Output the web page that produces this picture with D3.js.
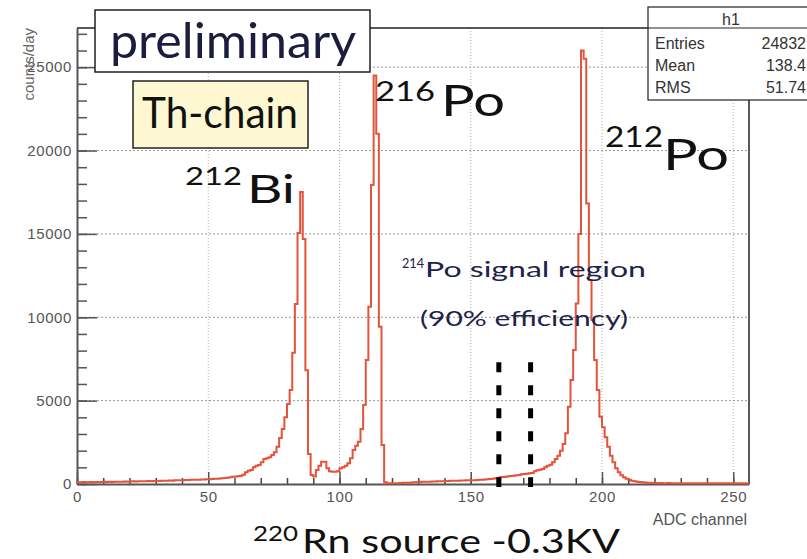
<!DOCTYPE html>
<html>
<head>
<meta charset="utf-8">
<script src="https://cdn.jsdelivr.net/npm/d3@7"></script>
<style>
  body { margin: 0; background: #fff; }
  svg { display: block; font-family: "Liberation Sans", Arial, sans-serif; }
</style>
</head>
<body>
<svg width="807" height="559"></svg>
<script>
// ADC spectrum, one bin per channel (0..255)
const binWidth = 1;
const counts = [
  110,100,120,110,100,120,110,120,110,120,
  130,120,130,120,140,130,140,130,150,140,
  150,160,150,160,170,160,170,180,170,180,
  190,180,190,200,200,210,200,220,220,230,
  230,240,240,250,250,260,260,270,270,280,
  280,300,310,320,330,350,360,380,400,430,
  450,470,500,560,700,800,840,1000,1100,1140,
  1300,1500,1540,1600,1740,1900,2240,2760,3300,4000,
  4800,5640,7870,10790,15050,17520,14700,6830,1800,540,
  450,840,1100,1340,1340,940,760,740,740,760,
  940,1000,1100,1240,1540,2040,2300,2540,3300,4740,
  7430,10630,17930,24500,21000,9430,2340,100,40,40,
  40,50,50,60,70,70,80,90,100,110,
  120,130,130,140,140,150,150,160,160,170,
  180,180,190,190,200,200,210,210,220,220,
  220,230,240,250,260,270,290,300,320,340,
  360,400,420,440,460,480,500,520,540,580,
  600,620,640,660,760,820,860,900,1000,1100,
  1150,1300,1500,1700,2000,2400,3040,4640,6240,8030,
  10830,15000,26000,25500,16830,12230,9830,7430,5640,4040,
  3400,2800,2240,1700,1300,950,700,520,400,320,
  250,200,170,140,120,100,90,80,70,60,
  60,50,60,50,50,60,50,50,40,50,
  50,40,50,50,40,50,40,40,50,40,
  40,50,40,40,40,50,40,40,40,40,
  40,40,40,40,40,40
];
const xTicks = [0, 50, 100, 150, 200, 250];
const yTicks = [0, 5000, 10000, 15000, 20000, 25000];
const signalCuts = [160.7, 172.8];
const statLabels = ['Entries', 'Mean', 'RMS'];
const statValues = ['24832', '138.4', '51.74'];

const m = { left: 77, right: 749, top: 28, bottom: 484 };
const svg = d3.select('svg');
const x = d3.scaleLinear().domain([0, 256]).range([m.left, m.right]);
const y = d3.scaleLinear().domain([0, 27350]).range([m.bottom, m.top]);
const labelFont = 'Lato, "Open Sans", sans-serif';

// grid
svg.append('g').selectAll('line')
  .data(xTicks.slice(1))
  .join('line')
  .attr('x1', d => x(d)).attr('x2', d => x(d))
  .attr('y1', m.top).attr('y2', m.bottom)
  .attr('stroke', '#b0b0b0').attr('stroke-dasharray', '1,2');
svg.append('g').selectAll('line')
  .data(yTicks.slice(1))
  .join('line')
  .attr('x1', m.left).attr('x2', m.right)
  .attr('y1', d => y(d)).attr('y2', d => y(d))
  .attr('stroke', '#999').attr('stroke-dasharray', '2,2');

// frame
svg.append('path')
  .attr('d', `M${m.left},${m.top}H${m.right}V${m.bottom}`)
  .attr('fill', 'none').attr('stroke', '#222').attr('stroke-width', 1.5);

// minor ticks
svg.append('g')
  .attr('transform', `translate(${m.left},0)`)
  .call(d3.axisLeft(y).ticks(27).tickSizeInner(-10).tickSizeOuter(0).tickFormat(''))
  .call(g => g.select('.domain').remove())
  .selectAll('line').attr('stroke', '#555').attr('stroke-width', 1.5);
svg.append('g')
  .attr('transform', `translate(0,${m.bottom})`)
  .call(d3.axisBottom(x).ticks(25).tickSizeInner(-6).tickSizeOuter(0).tickFormat(''))
  .call(g => g.select('.domain').remove())
  .selectAll('line').attr('stroke', '#444').attr('stroke-width', 1.5);

// main axes
const yAxis = svg.append('g')
  .attr('transform', `translate(${m.left},0)`)
  .call(d3.axisLeft(y).tickValues(yTicks).tickFormat(d3.format('d')).tickSizeInner(-20).tickSizeOuter(0).tickPadding(5));
const xAxis = svg.append('g')
  .attr('transform', `translate(0,${m.bottom})`)
  .call(d3.axisBottom(x).tickValues(xTicks).tickFormat(d3.format('d')).tickSizeInner(-12).tickSizeOuter(0).tickPadding(7));
[yAxis, xAxis].forEach(g => {
  g.select('.domain').attr('stroke', '#555').attr('stroke-width', 2);
  g.selectAll('line').attr('stroke', '#555').attr('stroke-width', 1.5);
  g.selectAll('text')
    .attr('font-family', '"Liberation Sans", Arial, sans-serif')
    .attr('font-size', 15).attr('letter-spacing', 0.6).attr('fill', '#555');
});

// histogram outline
const steps = counts.flatMap((c, i) => [[i * binWidth, c], [(i + 1) * binWidth, c]]);
svg.append('path')
  .datum(steps)
  .attr('fill', 'none')
  .attr('stroke', '#e4533b')
  .attr('stroke-width', 2)
  .attr('d', d3.line().x(d => x(d[0])).y(d => y(d[1])));

// signal window
svg.append('g').selectAll('line')
  .data(signalCuts)
  .join('line')
  .attr('x1', d => x(d)).attr('x2', d => x(d))
  .attr('y1', y(7300)).attr('y2', y(0) + 3)
  .attr('stroke', '#000').attr('stroke-width', 5)
  .attr('stroke-dasharray', '10,13');

// axis titles
svg.append('text')
  .attr('transform', `translate(34,${m.top}) rotate(-90)`)
  .attr('text-anchor', 'end')
  .attr('font-size', 15).attr('fill', '#666')
  .text('counts/day');
svg.append('text')
  .attr('x', 747).attr('y', 525)
  .attr('text-anchor', 'end')
  .attr('font-size', 16).attr('fill', '#555')
  .text('ADC channel');

// stats box
const stats = svg.append('g');
stats.append('rect')
  .attr('x', 648).attr('y', 7).attr('width', 170).attr('height', 93)
  .attr('fill', '#fff').attr('stroke', '#222').attr('stroke-width', 1.2);
stats.append('line')
  .attr('x1', 648).attr('x2', 807).attr('y1', 28).attr('y2', 28)
  .attr('stroke', '#222').attr('stroke-width', 1.2);
stats.append('text')
  .attr('x', 731).attr('y', 25).attr('text-anchor', 'middle')
  .attr('font-size', 16).attr('fill', '#333').text('h1');
statLabels.forEach((s, i) => {
  stats.append('text').attr('x', 655).attr('y', 49 + i * 22)
    .attr('font-size', 16).attr('fill', '#333').text(s);
  stats.append('text').attr('x', 806).attr('y', 49 + i * 22)
    .attr('text-anchor', 'end')
    .attr('font-size', 16).attr('fill', '#333').text(statValues[i]);
});

// annotation boxes
svg.append('rect')
  .attr('x', 95).attr('y', 10).attr('width', 275).attr('height', 62)
  .attr('fill', '#fff').attr('stroke', '#222').attr('stroke-width', 1.5);
svg.append('rect')
  .attr('x', 133).attr('y', 81).attr('width', 175).attr('height', 67)
  .attr('fill', '#fdf8d2').attr('stroke', '#222').attr('stroke-width', 1.5);

function word(txt, x0, yb, size, w, fill) {
  return svg.append('text')
    .attr('x', x0).attr('y', yb)
    .attr('font-family', labelFont)
    .attr('font-size', size)
    .attr('fill', fill || '#111')
    .attr('textLength', w)
    .attr('lengthAdjust', 'spacingAndGlyphs')
    .text(txt);
}

word('preliminary', 110, 58, 48, 246, '#1a1d3d');
word('Th-chain', 142, 128, 42, 156);
word('212', 185, 185, 25, 57);
word('Bi', 247, 203, 39, 48);
word('216', 375, 101, 27, 60);
word('Po', 441, 116, 42, 64);
word('212', 605, 147, 29, 58);
word('Po', 663, 170, 43, 66);
word('214', 402, 268, 14, 22, '#1d2347');
word('Po signal region', 425, 277, 21, 221, '#1d2347');
word('(90% efficiency)', 420, 326, 21, 208, '#1d2347');
word('220', 253, 541, 21, 45);
word('Rn source -0.3KV', 302, 553, 33, 318);
</script>
</body>
</html>
